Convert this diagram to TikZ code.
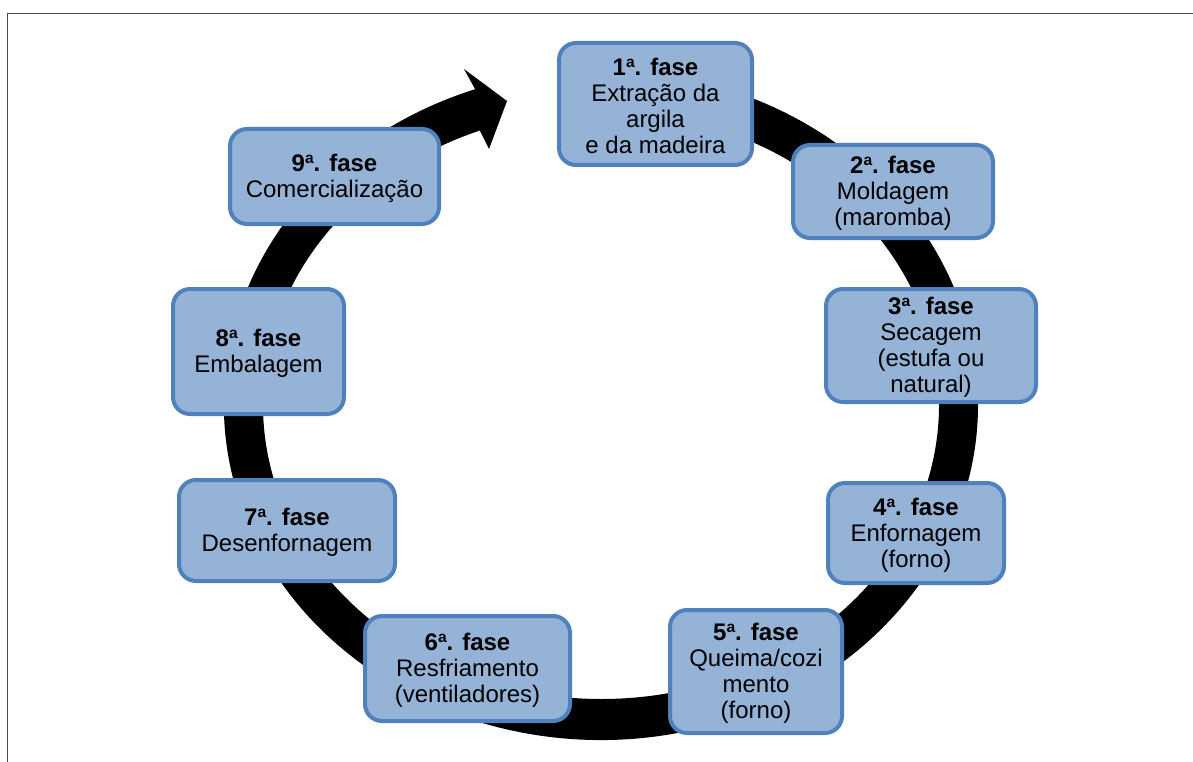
\documentclass[tikz,border=0pt]{standalone}
\usepackage{fontspec}
\setmainfont{Liberation Sans}
\definecolor{boxfill}{HTML}{95B3D7}
\definecolor{boxborder}{HTML}{4F81BD}
\definecolor{framegray}{HTML}{4A4A4A}
\newcommand\ordsup[1]{\raisebox{0.33em}{\fontsize{15.6}{15.6}\selectfont #1}}
\newcommand\headline[1]{\rule{0pt}{21.5pt}\textbf{#1}}
\tikzset{
  phase/.style={draw=boxborder, fill=boxfill, line width=4pt, rounded corners=17pt,
    inner sep=0pt, align=center, font=\fontsize{24}{26}\selectfont},
  ring/.style={fill=black},
  framel/.style={draw=framegray, line width=1.5pt}
}
\begin{document}
\begin{tikzpicture}[x=1pt,y=-1pt]
\useasboundingbox (0,0) rectangle (1193,762);
% frame
\coordinate (fbl) at (7.5,762);
\coordinate (ftl) at (7.5,13.5);
\coordinate (ftr) at (1193,13.5);
\draw[framel] (fbl) -- (ftl) -- (ftr);
% circular arrow
\coordinate (instart) at (618.7,111.4);
\coordinate (barbB) at (489,149);
\coordinate (tip) at (507,101);
\coordinate (barbA) at (464,69);
\coordinate (outend) at (475.1,89.2);
\fill[ring] (instart) arc[start angle=-87, end angle=249, x radius=338, y radius=294]
  -- (barbB) -- (tip) -- (barbA) -- (outend)
  arc[start angle=250.5, end angle=-87, x radius=377, y radius=335] -- cycle;
% phases
\node[phase, minimum width=193pt, minimum height=122pt] (f1) at (655.5,104)
  {\headline{1\ordsup{a}. fase}\\Extração da\\argila\\e da madeira};
\node[phase, minimum width=200pt, minimum height=93pt] (f2) at (893,191.5)
  {\headline{2\ordsup{a}. fase}\\Moldagem\\(maromba)};
\node[phase, minimum width=210pt, minimum height=113pt] (f3) at (931,345.5)
  {\headline{3\ordsup{a}. fase}\\Secagem\\(estufa ou\\natural)};
\node[phase, minimum width=176pt, minimum height=100pt] (f4) at (916,533)
  {\headline{4\ordsup{a}. fase}\\Enfornagem\\(forno)};
\node[phase, minimum width=172pt, minimum height=123pt] (f5) at (756,671.5)
  {\headline{5\ordsup{a}. fase}\\Queima/cozi\\mento\\(forno)};
\node[phase, minimum width=205pt, minimum height=105pt] (f6) at (467.5,668.5)
  {\headline{6\ordsup{a}. fase}\\Resfriamento\\(ventiladores)};
\node[phase, minimum width=216pt, minimum height=101pt] (f7) at (287,530.5)
  {\headline{7\ordsup{a}. fase}\\Desenfornagem};
\node[phase, minimum width=171pt, minimum height=125pt] (f8) at (258.5,351.5)
  {\headline{8\ordsup{a}. fase}\\Embalagem};
\node[phase, minimum width=209pt, minimum height=95pt] (f9) at (334.5,176.5)
  {\headline{9\ordsup{a}. fase}\\Comercialização};
\end{tikzpicture}
\end{document}
